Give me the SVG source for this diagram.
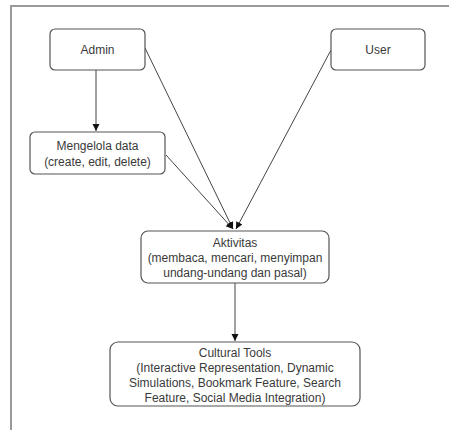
<svg xmlns="http://www.w3.org/2000/svg" width="449" height="430" viewBox="0 0 449 430">
<defs>
<marker id="ah" markerWidth="8" markerHeight="8" refX="7" refY="4" orient="auto" markerUnits="userSpaceOnUse">
<path d="M0,0.5 L7,4 L0,7.5 Z" fill="#111"/>
</marker>
<style>
.box{fill:#fff;stroke:#555;stroke-width:1.2}
.t{font-family:"Liberation Sans",Arial,sans-serif;font-size:12px;fill:#3a3a3a;text-anchor:middle}
.c{stroke:#444;stroke-width:1;fill:none}
</style>
</defs>
<rect x="0" y="0" width="449" height="430" fill="#fff"/>
<path d="M11,430 V6 H449" fill="none" stroke="#999" stroke-width="2"/>
<g id="connectors">
<line class="c" x1="96" y1="70" x2="96" y2="131" marker-end="url(#ah)"/>
<line class="c" x1="145" y1="48" x2="233" y2="229" marker-end="url(#ah)"/>
<line class="c" x1="166" y1="155" x2="233" y2="229" marker-end="url(#ah)"/>
<line class="c" x1="331" y1="50" x2="236" y2="229" marker-end="url(#ah)"/>
<line class="c" x1="235" y1="283" x2="235" y2="341" marker-end="url(#ah)"/>
</g>
<g id="admin">
<rect class="box" x="50" y="29" width="95" height="41" rx="5"/>
<text class="t" x="97.5" y="53.5">Admin</text>
</g>
<g id="user">
<rect class="box" x="331" y="29" width="94" height="41" rx="5"/>
<text class="t" x="378" y="53.5">User</text>
</g>
<g id="mengelola">
<rect class="box" x="30" y="132" width="135" height="42" rx="5"/>
<text class="t" x="97.5" y="150">Mengelola data</text>
<text class="t" x="97.5" y="165.5">(create, edit, delete)</text>
</g>
<g id="aktivitas">
<rect class="box" x="141" y="231" width="188" height="52" rx="7"/>
<text class="t" x="235" y="247">Aktivitas</text>
<text class="t" x="235" y="262">(membaca, mencari, menyimpan</text>
<text class="t" x="235" y="277">undang-undang dan pasal)</text>
</g>
<g id="cultural">
<rect class="box" x="110" y="342" width="250" height="64" rx="8"/>
<text class="t" x="235" y="357">Cultural Tools</text>
<text class="t" x="235" y="372">(Interactive Representation, Dynamic</text>
<text class="t" x="235" y="387">Simulations, Bookmark Feature, Search</text>
<text class="t" x="235" y="402">Feature, Social Media Integration)</text>
</g>
</svg>
